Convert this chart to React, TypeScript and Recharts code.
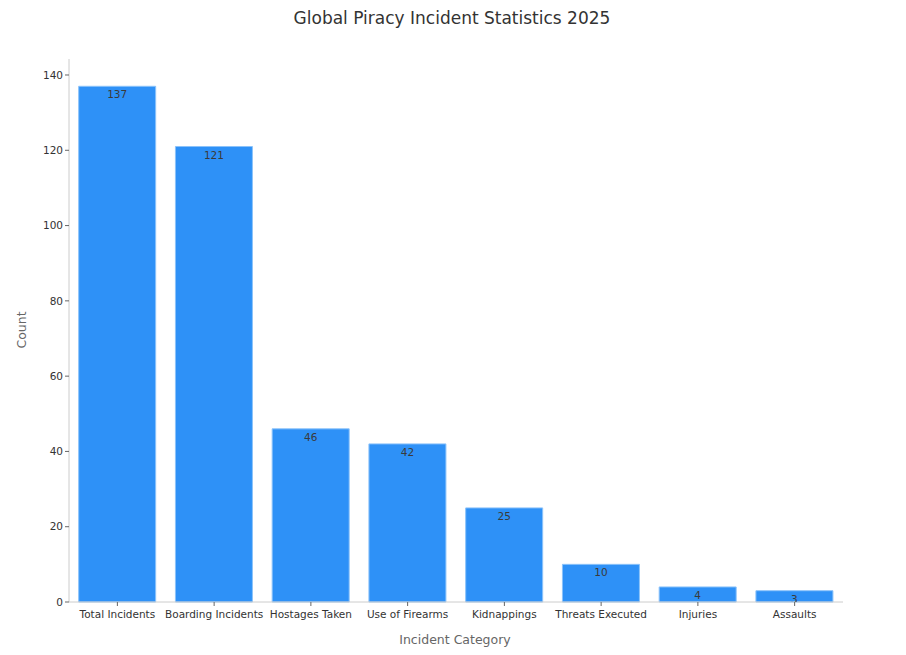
import React from 'react';
import { BarChart, Bar, XAxis, YAxis, LabelList } from 'recharts';

const categories = [
  'Total Incidents',
  'Boarding Incidents',
  'Hostages Taken',
  'Use of Firearms',
  'Kidnappings',
  'Threats Executed',
  'Injuries',
  'Assaults',
];
const counts = [137, 121, 46, 42, 25, 10, 4, 3];
const yTicks = [0, 20, 40, 60, 80, 100, 120, 140];

const data = categories.map((name, i) => ({ name, count: counts[i] }));

const BAR_COLOR = '#2E91F7';
const FONT = 'DejaVu Sans, sans-serif';

// value label sitting inside the top of each bar, clipped to the bar
const BarValueLabel = (props: any) => {
  const { x, y, width, height, value, index } = props;
  const id = `bar-clip-${index}`;
  return (
    <g>
      <defs>
        <clipPath id={id}>
          <rect x={x} y={y} width={width} height={height} />
        </clipPath>
      </defs>
      <text
        x={x + width / 2}
        y={y + 11}
        dy={1}
        textAnchor="middle"
        fontSize={10.5}
        fontFamily={FONT}
        fill="#3a3a3a"
        clipPath={`url(#${id})`}
      >
        {value}
      </text>
    </g>
  );
};

const App = () => {
  return (
    <div style={{ position: 'absolute', left: 0, top: 0, width: 906, height: 655, background: '#fff', fontFamily: FONT }}>
      <div
        style={{
          position: 'absolute',
          top: 8,
          left: 0,
          width: 904,
          textAlign: 'center',
          fontSize: 17,
          color: '#333',
        }}
      >
        Global Piracy Incident Statistics 2025
      </div>
      <div
        style={{
          position: 'absolute',
          left: 2,
          top: 632,
          width: 906,
          textAlign: 'center',
          fontSize: 12.5,
          color: '#666',
        }}
      >
        Incident Category
      </div>
      <div
        style={{
          position: 'absolute',
          left: 21,
          top: 330,
          transform: 'translate(-50%, -50%) rotate(-90deg)',
          fontSize: 12.5,
          color: '#666',
        }}
      >
        Count
      </div>
      <BarChart
        width={906}
        height={655}
        data={data}
        margin={{ top: 59, right: 63, left: 0, bottom: 0 }}
        barCategoryGap="10%"
      >
        <XAxis
          dataKey="name"
          height={53}
          interval={0}
          tick={{ fontSize: 10.5, fill: '#333', fontFamily: FONT, dy: 3 }}
          tickLine={{ stroke: '#666' }}
          tickSize={4}
          axisLine={{ stroke: '#ccc' }}
        />
        <YAxis
          width={69}
          domain={[0, 144.25]}
          ticks={yTicks}
          tick={{ fontSize: 10.5, fill: '#333', fontFamily: FONT }}
          tickLine={{ stroke: '#666' }}
          tickSize={4}
          axisLine={{ stroke: '#ccc' }}
        />
        <Bar dataKey="count" fill={BAR_COLOR} stroke="#8cc3fa" strokeWidth={1} isAnimationActive={false}>
          <LabelList dataKey="count" content={BarValueLabel} />
        </Bar>
      </BarChart>
    </div>
  );
};

export default App;
